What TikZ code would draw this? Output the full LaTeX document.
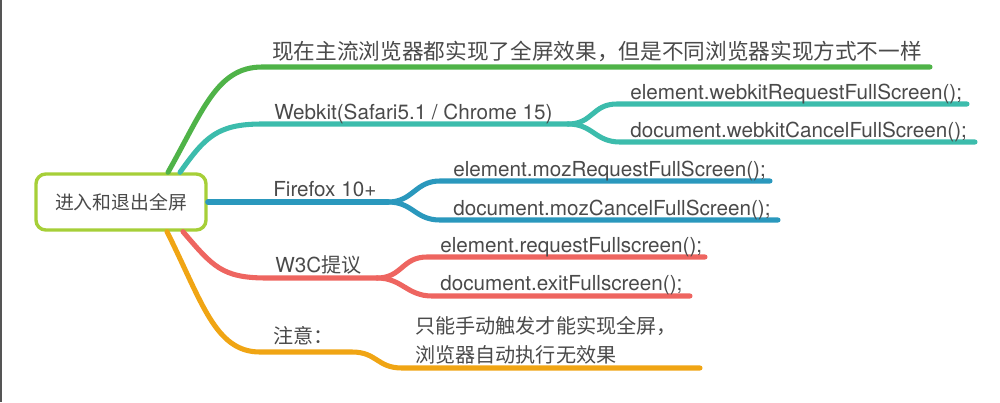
\documentclass[tikz,border=0pt]{standalone}
\usepackage{fontspec}
\setmainfont{TeX Gyre Heros}
\newfontfamily\cjkfont{Noto Sans CJK SC}
\usepackage{tikz}
\usetikzlibrary{calc, positioning}
\definecolor{mapgreen}{HTML}{4FB348}
\definecolor{mapteal}{HTML}{3CBCAC}
\definecolor{mapblue}{HTML}{2A98BD}
\definecolor{mapred}{HTML}{EE6560}
\definecolor{maporange}{HTML}{F0A514}
\definecolor{maplime}{HTML}{A6CF38}
\definecolor{textgray}{HTML}{4A4A4A}
\definecolor{framegray}{HTML}{555555}

\begin{document}
\begin{tikzpicture}[
    x=0.025cm, y=-0.025cm,
    every node/.style={text=textgray, inner sep=0pt},
    rootbox/.style={draw=maplime, fill=white, line width=2.4pt, rounded corners=7pt,
        minimum width=4.25cm, minimum height=1.4cm, font=\fontsize{13.4}{16}\selectfont\cjkfont},
    branch/.style={draw=#1, line width=3.6pt, line cap=round},
    leaf/.style={anchor=base west, font=\fontsize{14.7}{18}\selectfont},
    cjkleaf/.style={anchor=base west, font=\fontsize{15.4}{18}\selectfont\cjkfont},
    cjknote/.style={anchor=base west, font=\fontsize{14.3}{18}\selectfont\cjkfont}
]
    \useasboundingbox (0,0) rectangle (1000,402);
    \draw[framegray, line width=1.2pt] (0.8,0) -- (0.8,402);

    \node[rootbox] (root) at (121,202) {进入和退出全屏};

    % branch ends
    \coordinate (g1) at (262,67);   \coordinate (g2) at (930,67);
    \coordinate (t1) at (262,124);  \coordinate (tf) at (568,124);
    \coordinate (tu1) at (617,104); \coordinate (tu2) at (967,104);
    \coordinate (td1) at (620,142); \coordinate (td2) at (975,142);
    \coordinate (bf) at (388,202);
    \coordinate (bu1) at (440,181); \coordinate (bu2) at (770,181);
    \coordinate (bd1) at (440,220); \coordinate (bd2) at (778,220);
    \coordinate (r1) at (267,278);  \coordinate (rf) at (377,278);
    \coordinate (ru1) at (427,257); \coordinate (ru2) at (705,257);
    \coordinate (rd1) at (432,296); \coordinate (rd2) at (690,296);
    \coordinate (o1) at (260,352);  \coordinate (o2) at (352,352);
    \coordinate (o3) at (402,368);  \coordinate (o4) at (700,368);

    \draw[branch=mapgreen] ($(root.north)+(47,0)$) .. controls +(35,-62) and +(-45,0) .. (g1) -- (g2);
    \draw[branch=mapteal] ($(root.north)+(59,0)$) .. controls +(25,-35) and +(-45,0) .. (t1) -- (tf);
    \draw[branch=mapteal] (tf) .. controls +(25,0) and +(-25,0) .. (tu1) -- (tu2);
    \draw[branch=mapteal] (tf) .. controls +(25,0) and +(-25,0) .. (td1) -- (td2);
    \draw[branch=mapblue] (root.east) -- (bf);
    \draw[branch=mapblue] (bf) .. controls +(25,0) and +(-25,0) .. (bu1) -- (bu2);
    \draw[branch=mapblue] (bf) .. controls +(25,0) and +(-25,0) .. (bd1) -- (bd2);
    \draw[branch=mapred] ($(root.south)+(62,0)$) .. controls +(30,35) and +(-45,0) .. (r1) -- (rf);
    \draw[branch=mapred] (rf) .. controls +(25,0) and +(-25,0) .. (ru1) -- (ru2);
    \draw[branch=mapred] (rf) .. controls +(25,0) and +(-25,0) .. (rd1) -- (rd2);
    \draw[branch=maporange] ($(root.south)+(46,0)$) .. controls +(35,70) and +(-45,0) .. (o1) -- (o2)
        .. controls +(25,0) and +(-25,0) .. (o3) -- (o4);

    \node[cjkleaf] (title) at (272,59) {现在主流浏览器都实现了全屏效果，但是不同浏览器实现方式不一样};
    \node[leaf] (webkit) at (274,119) {Webkit(Safari5.1 / Chrome 15)};
    \node[leaf] (wkreq) at (630,99) {element.webkitRequestFullScreen();};
    \node[leaf] (wkcancel) at (630,137) {document.webkitCancelFullScreen();};
    \node[leaf] (firefox) at (273,196) {Firefox 10+};
    \node[leaf] (mozreq) at (453,176) {element.mozRequestFullScreen();};
    \node[leaf] (mozcancel) at (453,215) {document.mozCancelFullScreen();};
    \node[leaf] (w3c) at (275,272) {W3C{\cjkfont\fontsize{14.3}{18}\selectfont 提议}};
    \node[leaf] (w3creq) at (440,252) {element.requestFullscreen();};
    \node[leaf] (w3cexit) at (440,290) {document.exitFullscreen();};
    \node[cjknote] (notice) at (273,343) {注意：};
    \node[cjknote] (note1) at (415,333) {只能手动触发才能实现全屏，};
    \node[cjknote] (note2) at ($(note1.base west)+(0,29)$) {浏览器自动执行无效果};
\end{tikzpicture}
\end{document}
